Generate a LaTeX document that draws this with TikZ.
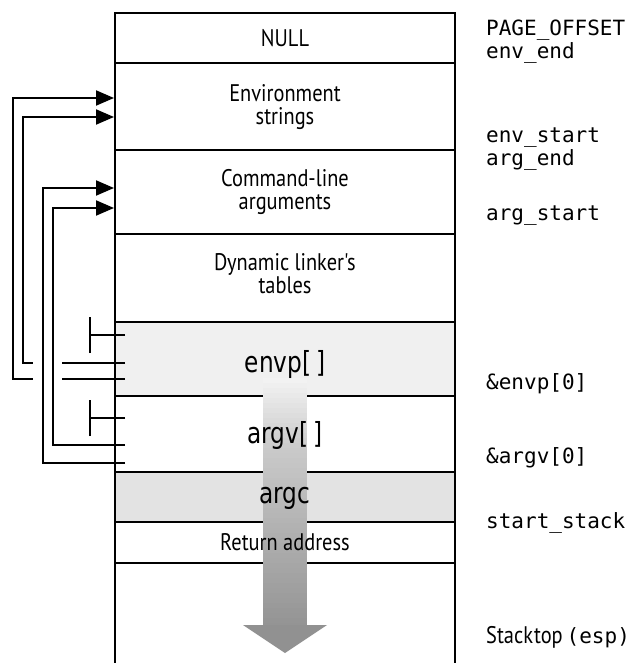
\documentclass[tikz,border=0pt]{standalone}
\usepackage{fontspec}
\newfontfamily\labelfont[FakeStretch=0.85]{PT Sans}
\newfontfamily\arrayfont[FakeStretch=0.8]{DejaVu Sans}
\setmonofont{DejaVu Sans Mono}
\usetikzlibrary{arrows.meta}
\tikzset{
  wall/.style={line width=2.5pt},
  ptr/.style={line width=2pt},
  ptrarrow/.style={ptr, -{Triangle[length=18pt,width=15pt]}},
  nullptr/.style={ptr, -{Bar[width=36pt]}},
  celltext/.style={font=\labelfont\fontsize{24}{23}\selectfont, align=center, inner sep=0pt},
  arraytext/.style={font=\arrayfont\fontsize{29}{29}\selectfont, anchor=base, inner sep=0pt},
  addr/.style={font=\ttfamily\fontsize{21}{23}\selectfont, anchor=base west, inner sep=0pt},
}
\begin{document}
\begin{tikzpicture}[x=1pt,y=-1pt]
		\useasboundingbox (0,0) rectangle (637,663);
		% 1. stack frame: left and right walls, cells
		\def\bl{115} \def\br{455}
		\fill[gray!12] (\bl,322) rectangle (\br,396);
		\fill[gray!22] (\bl,472) rectangle (\br,522);
		\draw[wall] (\bl,663) -- (\bl,13) -- (\br,13) -- (\br,663);
		\foreach \y in {63,150,234,322,396,472,522,563}
			\draw[wall] (\bl,\y) -- (\br,\y);
		
		% 2. growth arrow (drawn over the cell lines), shaft in bands
		\foreach \y in {378,383,...,623} {
			\pgfmathsetmacro\pct{\y<440 ? 10+0.48*(\y-378) : 40+0.24*(\y-440)}
			\fill[gray!\pct] (263,\y) rectangle (307,\y+5.4);
		}
		\fill[gray!86] (243,625) -- (327,625) -- (285,653) -- cycle;
		
		% 3. cell labels
		\node[celltext] (null) at (285,38) {NULL};
		\node[celltext] (envstr) at (285,107) {Environment\\strings};
		\node[celltext] (argstr) at (285,192) {Command-line\\arguments};
		\node[celltext] (dyn) at (285,274) {Dynamic linker's\\tables};
		\node[arraytext] (envp) at (285,372) {envp[\,]};
		\node[arraytext] (argv) at (285,443) {argv[\,]};
		\node[arraytext] (argc) at (285,503) {argc};
		\node[celltext, anchor=base] (ret) at (285,550) {Return address};
		
		% 4. addresses on the right
		\node[addr] (pageoff) at (486,36) {PAGE\_OFFSET};
		\node[addr] (envend) at (486,59) {env\_end};
		\node[addr] (envstart) at (486,143) {env\_start};
		\node[addr] (argend) at (486,165) {arg\_end};
		\node[addr] (argstart) at (486,220) {arg\_start};
		\node[addr] (envpaddr) at (486,389) {\&envp[0]};
		\node[addr] (argvaddr) at (486,463) {\&argv[0]};
		\node[addr] (startstack) at (486,528) {start\_stack};
		\node[addr] (esp) at (486,643) {{\labelfont\fontsize{24}{23}\selectfont Stack\hspace{1pt}top}\hspace{4pt}(esp)};
		
		% 5. pointer slots and the strings they point to
		\coordinate (envpnull) at (125,335);
		\coordinate (envp1) at (125,363);
		\coordinate (envp0) at (125,379);
		\coordinate (argvnull) at (125,418);
		\coordinate (argv1) at (125,445);
		\coordinate (argv0) at (125,463);
		\coordinate (envstr0) at (114,98);
		\coordinate (envstr1) at (114,117);
		\coordinate (argstr0) at (114,188);
		\coordinate (argstr1) at (114,208);
		
		% envp[] entries
		\draw[nullptr] (envpnull) -- ++(-36,0);
		\draw[ptrarrow] (envp0) -| (13,98) -- (envstr0);
		\draw[ptrarrow] (envp1) -| (23,117) -- (envstr1);
		
		% gap where the argv[] pointers cross
		\fill[white] (33,355) rectangle (62,387);
		
		% argv[] entries
		\draw[nullptr] (argvnull) -- ++(-36,0);
		\draw[ptrarrow] (argv0) -| (43,188) -- (argstr0);
		\draw[ptrarrow] (argv1) -| (53,208) -- (argstr1);
		
	\end{tikzpicture}
\end{document}
